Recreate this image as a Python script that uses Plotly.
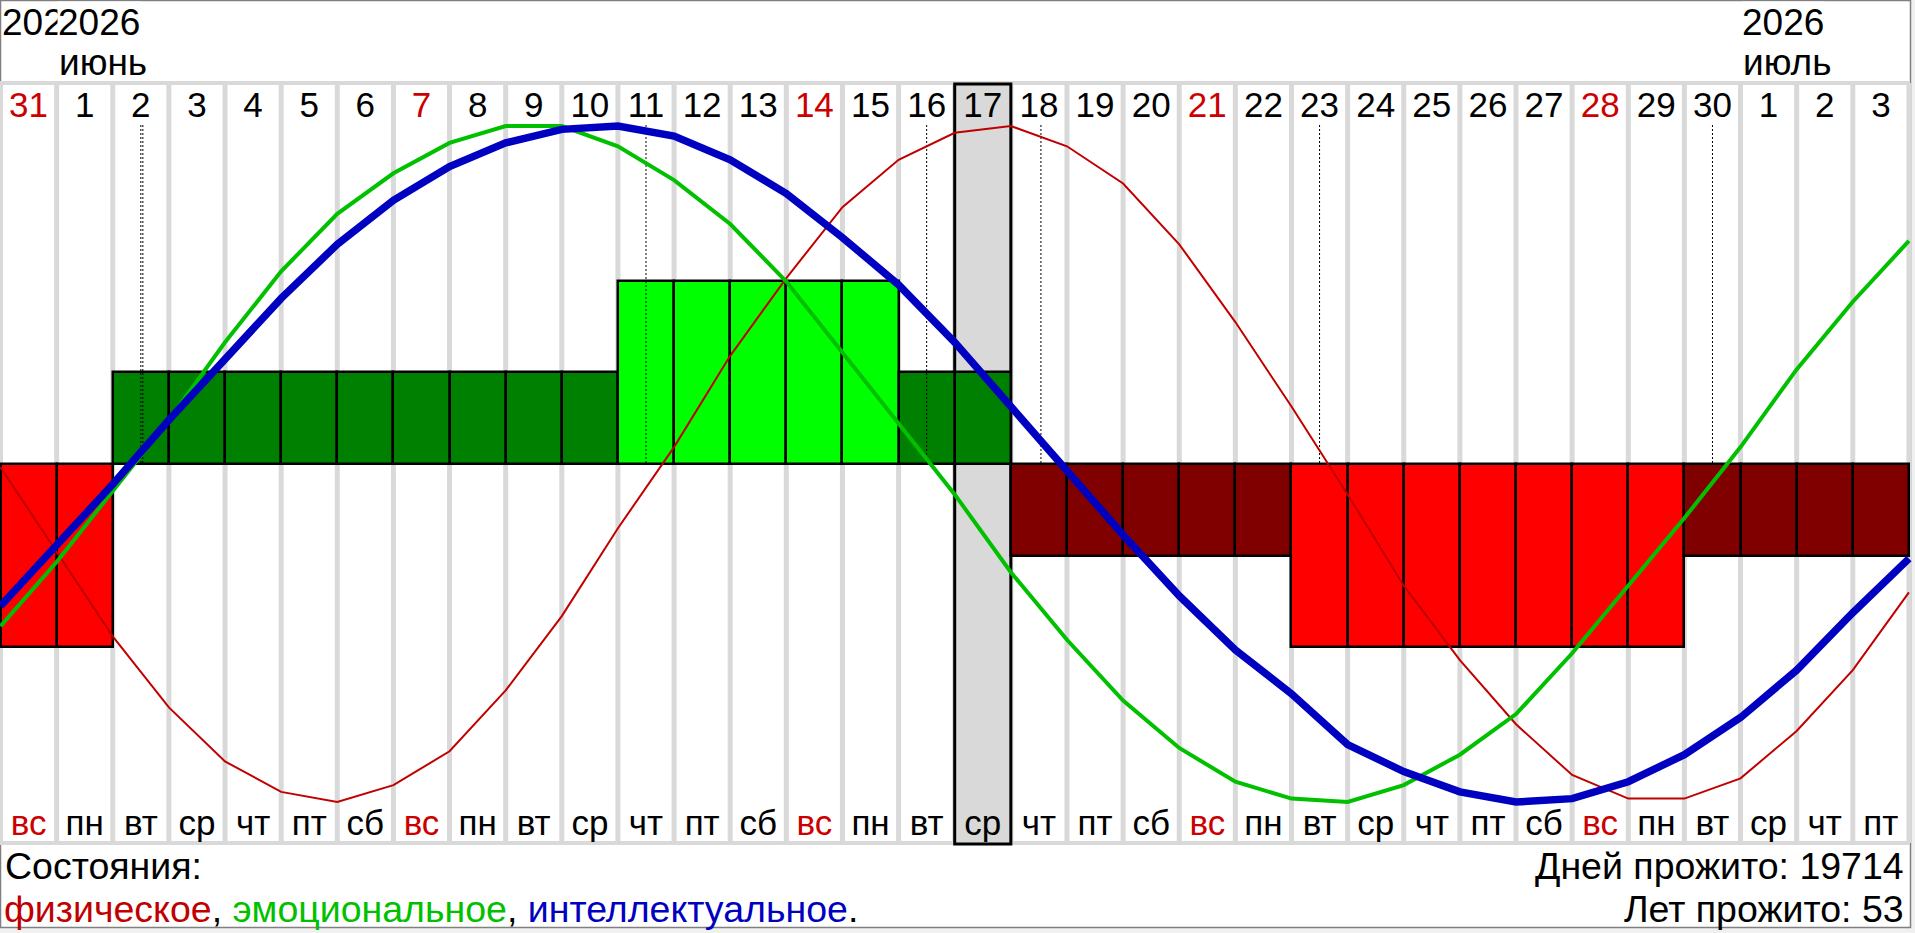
import plotly.graph_objects as go

W, H = 1915, 933

# one column per day, 31 May .. 3 July 2026
day_numbers = ["31", "1", "2", "3", "4", "5", "6", "7", "8", "9", "10", "11", "12",
               "13", "14", "15", "16", "17", "18", "19", "20", "21", "22", "23", "24",
               "25", "26", "27", "28", "29", "30", "1", "2", "3"]
weekdays = ["вс", "пн", "вт", "ср", "чт", "пт", "сб",
            "вс", "пн", "вт", "ср", "чт", "пт", "сб",
            "вс", "пн", "вт", "ср", "чт", "пт", "сб",
            "вс", "пн", "вт", "ср", "чт", "пт", "сб",
            "вс", "пн", "вт", "ср", "чт", "пт"]
# overall day state shown by the blocks
day_state = [-2, -2, 1, 1, 1, 1, 1, 1, 1, 1, 1, 2, 2, 2, 2, 2, 1, 1,
             -1, -1, -1, -1, -1, -2, -2, -2, -2, -2, -2, -2, -1, -1, -1, -1]

# cycle values (%) at the day boundaries, 35 points
physical = [-1, -26, -51, -72, -88, -97, -100, -95, -85, -67, -45, -19, 5, 32, 55, 76, 90,
            98, 100, 94, 83, 65, 42, 17, -9, -36, -58, -77, -92, -99, -99, -93, -79, -61, -38]
emotional = [-48, -29, -8, 13, 36, 57, 74, 86, 95, 100, 100, 94, 84, 71, 54, 33, 12,
             -9, -32, -52, -70, -84, -94, -99, -100, -95, -86, -74, -56, -36, -16, 5, 28, 48, 66]
intellectual = [-42, -24, -6, 13, 31, 49, 65, 78, 88, 95, 99, 100, 97, 90, 80, 67, 53,
                36, 17, -2, -21, -39, -55, -68, -83, -91, -97, -100, -99, -94, -86, -75, -61, -44, -28]

selected_day = 17
month_labels = [(0, "2026", ""), (1, "2026", "июнь"), (31, "2026", "июль")]
days_lived = 19714
years_lived = 53

FONT = "Arial, 'Liberation Sans', sans-serif"
RED_TXT = "#cc0000"
state_colors = {2: "#00ff00", 1: "#008000", -1: "#800000", -2: "#ff0000"}
cycles = [
    (physical, "#c00000", 2),
    (emotional, "#00c000", 4),
    (intellectual, "#0000c0", 7.5),
]

# pixel geometry of the drawing
COL_W = 56.13
X0 = 0.5
Y0 = 464.0
PX_PER_UNIT = 3.38
STATE_UNIT = 27.1


def py(px):
    return (Y0 - px) / PX_PER_UNIT


ncols = len(day_numbers)
top_line, bottom_line = 83, 843

fig = go.Figure()

shapes = [dict(type="rect", xref="paper", yref="paper", x0=0.5 / W, x1=1910.5 / W,
               y0=1 - 927.5 / H, y1=1 - 0.5 / H, fillcolor="white",
               line=dict(color="#808080", width=1.5), layer="below")]
for k in range(ncols + 1):
    shapes.append(dict(type="line", xref="x", yref="y", x0=k, x1=k,
                       y0=py(bottom_line), y1=py(top_line),
                       line=dict(color="#d9d9d9", width=5), layer="below"))
for yl in (top_line, bottom_line):
    shapes.append(dict(type="line", xref="paper", yref="y", x0=0, x1=1910 / W,
                       y0=py(yl), y1=py(yl),
                       line=dict(color="#d9d9d9", width=4), layer="below"))
shapes.append(dict(type="rect", xref="x", yref="y", x0=selected_day, x1=selected_day + 1,
                   y0=py(bottom_line + 1), y1=py(top_line + 1), fillcolor="#d9d9d9",
                   line=dict(color="black", width=3), layer="below"))

# day state blocks
fig.add_trace(go.Bar(
    x=[k + 0.5 for k in range(ncols)],
    y=[s * STATE_UNIT for s in day_state],
    width=1,
    marker=dict(color=[state_colors[s] for s in day_state],
                line=dict(color="black", width=2.5)),
    hoverinfo="skip",
))

# critical days: dotted markers where a cycle changes sign
for ci, (vals, _, _) in enumerate(cycles):
    xs, ys = [], []
    for k in range(ncols):
        if (vals[k] < 0) != (vals[k + 1] < 0):
            xc = k + 0.5 + (0.036 if ci == 2 else 0)
            xs += [xc, xc, None]
            ys += [py(125), 0, None]
    fig.add_trace(go.Scatter(x=xs, y=ys, mode="lines",
                             line=dict(color="black", width=1, dash="2px,2px"),
                             hoverinfo="skip"))

bx = list(range(ncols + 1))
for vals, color, width in cycles:
    fig.add_trace(go.Scatter(x=bx, y=vals, mode="lines",
                             line=dict(color=color, width=width)))

day_colors = [RED_TXT if w == "вс" else "black" for w in weekdays]
fig.add_trace(go.Scatter(
    x=[k + 0.5 for k in range(ncols)], y=[py(108)] * ncols, mode="text",
    text=day_numbers, textposition="middle center",
    textfont=dict(family=FONT, size=35, color=day_colors),
    hoverinfo="skip"))
fig.add_trace(go.Scatter(
    x=[k + 0.5 for k in range(ncols)], y=[py(826)] * ncols, mode="text",
    text=weekdays, textposition="middle center",
    textfont=dict(family=FONT, size=35, color=day_colors),
    hoverinfo="skip"))

annotations = []
for col, year, month in month_labels:
    annotations.append(dict(x=col, y=py(22), xref="x", yref="y", text=year,
                            xanchor="left", yanchor="middle", showarrow=False,
                            bgcolor="white" if col > 0 else None, borderpad=0,
                            font=dict(family=FONT, size=37, color="black")))
    if month:
        annotations.append(dict(x=col, y=py(62), xref="x", yref="y", text=month,
                                xanchor="left", yanchor="middle", showarrow=False,
                                font=dict(family=FONT, size=37, color="black")))

TXT = 37.5
annotations += [
    dict(x=3 / W, y=1 - 866 / H, xref="paper", yref="paper", text="Состояния:",
         xanchor="left", yanchor="middle", showarrow=False,
         font=dict(family=FONT, size=TXT, color="black")),
    dict(x=2 / W, y=1 - 909 / H, xref="paper", yref="paper",
         text='<span style="color:#c00000">физическое</span>, '
              '<span style="color:#00c000">эмоциональное</span>, '
              '<span style="color:#0000c0">интеллектуальное</span>.',
         xanchor="left", yanchor="middle", showarrow=False,
         font=dict(family=FONT, size=TXT, color="black")),
    dict(x=1906 / W, y=1 - 866 / H, xref="paper", yref="paper",
         text=f"Дней прожито: {days_lived}",
         xanchor="right", yanchor="middle", showarrow=False,
         font=dict(family=FONT, size=TXT, color="black")),
    dict(x=1906 / W, y=1 - 909 / H, xref="paper", yref="paper",
         text=f"Лет прожито: {years_lived}",
         xanchor="right", yanchor="middle", showarrow=False,
         font=dict(family=FONT, size=TXT, color="black")),
]

fig.update_layout(
    width=W, height=H,
    margin=dict(l=0, r=0, t=0, b=0, pad=0),
    paper_bgcolor="#f0f0f0", plot_bgcolor="rgba(0,0,0,0)",
    showlegend=False, bargap=0,
    xaxis=dict(visible=False, range=[-X0 / COL_W, (W - X0) / COL_W], fixedrange=True),
    yaxis=dict(visible=False, range=[py(H), py(0)], fixedrange=True),
    shapes=shapes, annotations=annotations,
)

fig.write_html("out.html", config={"displayModeBar": False},
               post_script="document.body.style.margin='0';")
